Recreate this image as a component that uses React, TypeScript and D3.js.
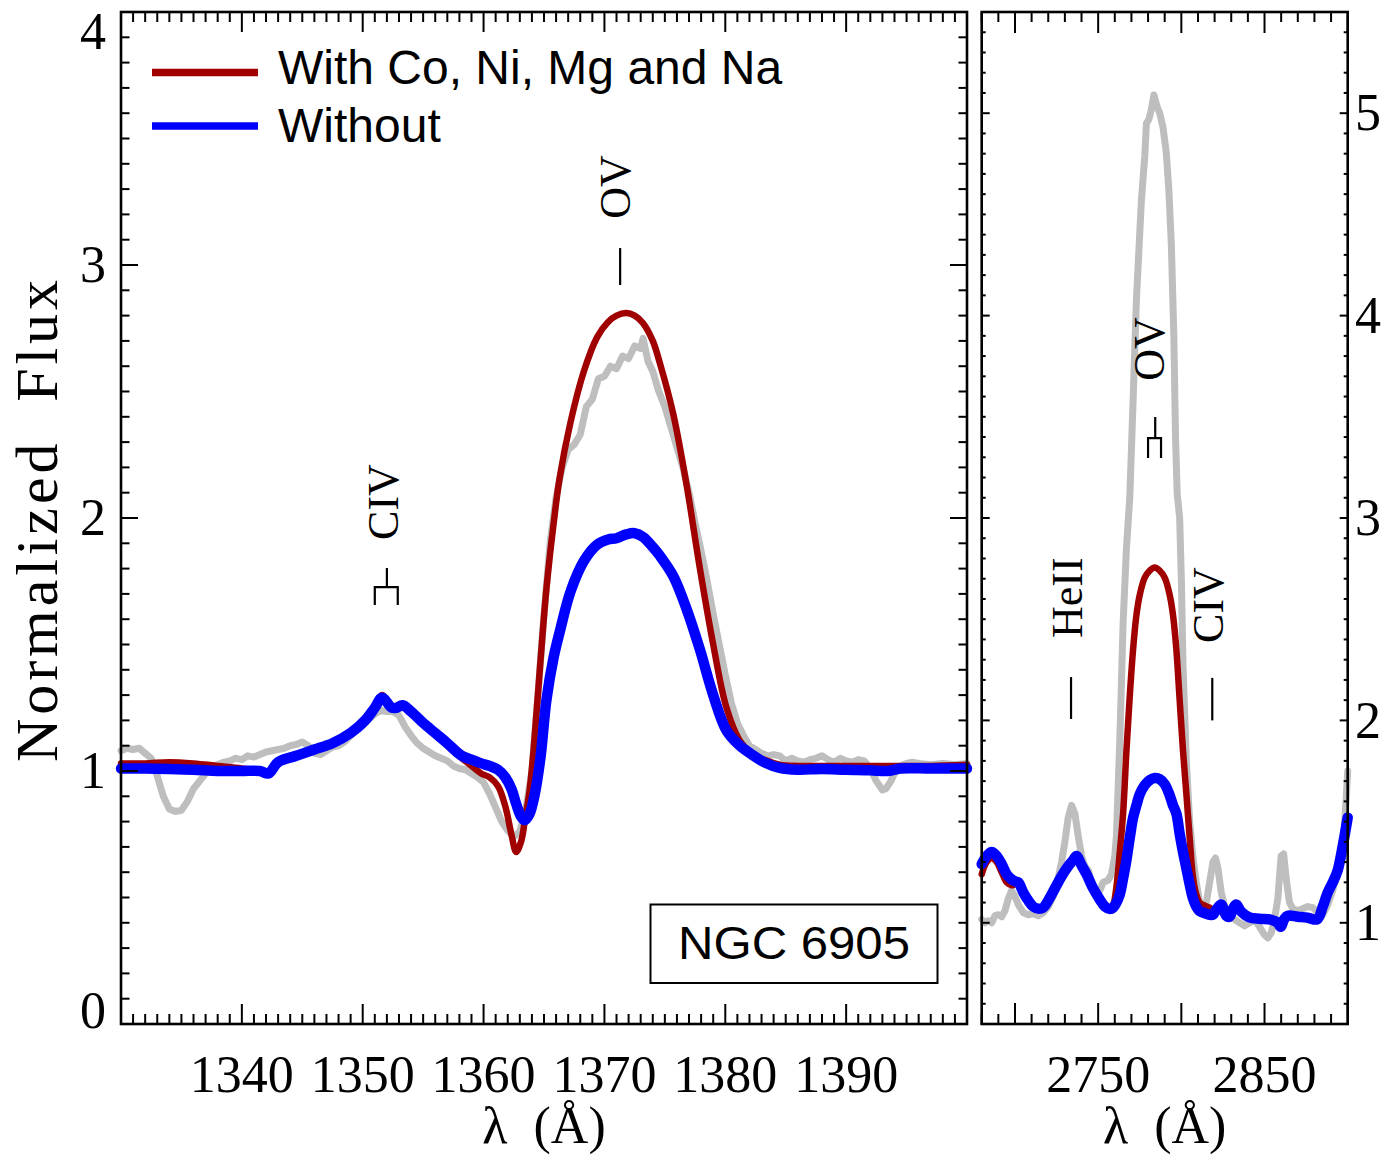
import React from "react";
import * as d3 from "d3";

// ---------------- DATA ----------------
// Left panel (1330-1400 Å): model grid
const leftWave = [1330, 1332, 1334, 1336, 1338, 1340, 1341.5, 1342.2, 1343, 1344.5, 1346, 1347.5, 1349, 1350.2, 1351, 1351.6, 1352.4, 1352.8, 1353.3, 1354, 1355, 1356, 1357, 1358.2, 1359, 1359.8, 1360.5, 1361.2, 1361.8, 1362.3, 1362.7, 1363.1, 1363.4, 1363.8, 1364.2, 1364.7, 1365.2, 1365.8, 1366.3, 1367.2, 1368.3, 1369.4, 1370.3, 1371, 1371.8, 1372.5, 1373.2, 1374, 1374.6, 1375.7, 1376.8, 1377.9, 1379, 1380.1, 1381.2, 1382.2, 1383.2, 1384.5, 1386, 1388, 1390, 1392, 1393.4, 1394.5, 1397, 1400];
const leftWith = [1.03, 1.03, 1.035, 1.03, 1.02, 1.01, 1.0, 0.99, 1.035, 1.06, 1.085, 1.11, 1.155, 1.21, 1.26, 1.3, 1.25, 1.25, 1.26, 1.23, 1.19, 1.15, 1.1, 1.05, 1.02, 0.99, 0.975, 0.94, 0.86, 0.75, 0.68, 0.72, 0.8, 0.92, 1.12, 1.43, 1.72, 1.98, 2.16, 2.38, 2.58, 2.715, 2.775, 2.8, 2.81, 2.8, 2.77, 2.7, 2.61, 2.41, 2.13, 1.8, 1.5, 1.25, 1.12, 1.07, 1.045, 1.025, 1.02, 1.02, 1.02, 1.02, 1.02, 1.02, 1.02, 1.025];
const leftWithout = [1.01, 1.01, 1.008, 1.005, 1.0, 1.0, 1.0, 0.99, 1.035, 1.06, 1.085, 1.11, 1.15, 1.2, 1.25, 1.29, 1.25, 1.25, 1.26, 1.235, 1.19, 1.15, 1.11, 1.06, 1.045, 1.03, 1.02, 1.005, 0.975, 0.93, 0.87, 0.82, 0.805, 0.83, 0.9, 1.05, 1.28, 1.45, 1.55, 1.71, 1.83, 1.895, 1.915, 1.92, 1.935, 1.94, 1.925, 1.885, 1.85, 1.77, 1.64, 1.48, 1.3, 1.16, 1.1, 1.065, 1.035, 1.012, 1.005, 1.008, 1.005, 1.003, 1.0, 1.01, 1.01, 1.01];

// Left panel observed spectrum
const leftObsWave = [1330, 1330.5, 1331, 1331.5, 1332, 1332.5, 1333, 1333.5, 1334, 1334.5, 1335, 1335.5, 1336, 1336.5, 1337, 1337.5, 1338, 1338.5, 1339, 1339.5, 1340, 1340.5, 1341, 1341.5, 1342, 1342.5, 1343, 1343.5, 1344, 1344.5, 1345, 1345.5, 1346, 1346.5, 1347, 1347.5, 1348, 1348.5, 1349, 1349.5, 1350, 1350.5, 1351, 1351.5, 1352, 1352.5, 1353, 1353.5, 1354, 1354.5, 1355, 1355.5, 1356, 1356.5, 1357, 1357.5, 1358, 1358.5, 1359, 1359.5, 1360, 1360.5, 1361, 1361.5, 1362, 1362.5, 1363, 1363.5, 1364, 1364.5, 1365, 1365.5, 1366, 1366.5, 1367, 1367.5, 1368, 1368.5, 1369, 1369.5, 1370, 1370.5, 1371, 1371.5, 1372, 1372.5, 1373, 1373.2, 1373.6, 1374, 1374.5, 1375, 1375.5, 1376, 1376.5, 1377, 1377.5, 1378, 1378.5, 1379, 1379.5, 1380, 1380.5, 1381, 1381.5, 1382, 1382.5, 1383, 1383.5, 1384, 1384.5, 1385, 1385.5, 1386, 1386.5, 1387, 1387.5, 1388, 1388.5, 1389, 1389.5, 1390, 1390.5, 1391, 1391.5, 1392, 1392.5, 1393, 1393.3, 1393.7, 1394, 1394.5, 1395, 1395.5, 1396, 1397, 1398, 1399, 1400];
const leftObsFlux = [1.08, 1.09, 1.085, 1.09, 1.07, 1.05, 0.98, 0.9, 0.85, 0.84, 0.845, 0.88, 0.93, 0.96, 0.99, 1.01, 1.025, 1.035, 1.04, 1.05, 1.045, 1.06, 1.055, 1.065, 1.075, 1.08, 1.085, 1.09, 1.1, 1.105, 1.115, 1.1, 1.07, 1.065, 1.08, 1.095, 1.1, 1.115, 1.14, 1.165, 1.18, 1.205, 1.225, 1.24, 1.235, 1.235, 1.22, 1.175, 1.14, 1.11, 1.09, 1.075, 1.06, 1.05, 1.04, 1.02, 1.01, 1.005, 0.99, 0.975, 0.955, 0.91, 0.855, 0.8, 0.765, 0.74, 0.76, 0.85, 1.0, 1.3, 1.62, 1.9, 2.08, 2.2, 2.27, 2.29, 2.33, 2.44, 2.47, 2.55, 2.56, 2.6, 2.59, 2.64, 2.63, 2.68, 2.67, 2.71, 2.62, 2.58, 2.5, 2.44, 2.36, 2.28, 2.2, 2.1, 1.98, 1.87, 1.75, 1.62, 1.5, 1.38, 1.27, 1.19, 1.14, 1.1, 1.085, 1.07, 1.06, 1.065, 1.06, 1.04, 1.05, 1.04, 1.035, 1.045, 1.05, 1.06, 1.045, 1.035, 1.05, 1.04, 1.035, 1.045, 1.04, 1.01, 0.96, 0.925, 0.93, 0.96, 0.99, 1.02, 1.03, 1.035, 1.03, 1.025, 1.03, 1.025, 1.03];

// Right panel (2680-2900 Å): model grid
const rightWave = [2680, 2683, 2686, 2689, 2692, 2695, 2698, 2700, 2702, 2705, 2708, 2711, 2714, 2717, 2720, 2724, 2728, 2732, 2735, 2737, 2740, 2743, 2747, 2751, 2754, 2757, 2759, 2761, 2763, 2765, 2767, 2769, 2771, 2773, 2775, 2778, 2781, 2784, 2787, 2790, 2793, 2795, 2797, 2799, 2801, 2803, 2805, 2807, 2809, 2811, 2814, 2817, 2819, 2821, 2824, 2827, 2829, 2831, 2833, 2836, 2841, 2847, 2854, 2858, 2859.6, 2862, 2864, 2870, 2876, 2881.6, 2885, 2888, 2891, 2894, 2897, 2900];
const rightWith = [1.24, 1.3, 1.32, 1.3, 1.25, 1.2, 1.185, 1.19, 1.19, 1.14, 1.1, 1.075, 1.07, 1.08, 1.12, 1.18, 1.24, 1.29, 1.32, 1.335, 1.29, 1.24, 1.17, 1.11, 1.08, 1.075, 1.09, 1.18, 1.35, 1.54, 1.85, 2.12, 2.35, 2.52, 2.62, 2.705, 2.74, 2.755, 2.74, 2.705, 2.62, 2.52, 2.35, 2.1, 1.85, 1.64, 1.42, 1.225, 1.14, 1.1, 1.085, 1.075, 1.06, 1.07, 1.09, 1.035, 1.03, 1.07, 1.09, 1.055, 1.027, 1.02, 1.015, 1.0, 0.98, 1.02, 1.035, 1.03, 1.025, 1.017, 1.08, 1.15, 1.2, 1.26, 1.38, 1.52];
const rightWithout = [1.29, 1.33, 1.35, 1.33, 1.29, 1.24, 1.215, 1.205, 1.2, 1.15, 1.11, 1.08, 1.07, 1.075, 1.11, 1.17, 1.23, 1.28, 1.31, 1.33, 1.285, 1.24, 1.17, 1.115, 1.08, 1.068, 1.075, 1.1, 1.14, 1.22, 1.31, 1.42, 1.52, 1.58, 1.635, 1.68, 1.705, 1.715, 1.71, 1.685, 1.63, 1.58, 1.54, 1.44, 1.35, 1.27, 1.19, 1.12, 1.08, 1.058, 1.048, 1.04, 1.04, 1.065, 1.09, 1.035, 1.03, 1.07, 1.09, 1.055, 1.027, 1.02, 1.015, 1.0, 0.98, 1.02, 1.035, 1.03, 1.025, 1.017, 1.08, 1.15, 1.2, 1.26, 1.38, 1.52];

// Right panel observed spectrum
const rightObsWave = [2680, 2682, 2684, 2686, 2688, 2690, 2692, 2694, 2696, 2698, 2700, 2702, 2705, 2708, 2711, 2714, 2717, 2720, 2723, 2726, 2728, 2730, 2732, 2734, 2736, 2738, 2740, 2742, 2744, 2747, 2749, 2751, 2753, 2756, 2758, 2760, 2761, 2763, 2765, 2767, 2769, 2771, 2773, 2776, 2778, 2779, 2780.5, 2782, 2783.5, 2784.5, 2785.5, 2787, 2789, 2791, 2792.5, 2794, 2795.5, 2796.5, 2797.5, 2799, 2800, 2801, 2803, 2805, 2807, 2809, 2811, 2813, 2815, 2817, 2819, 2820.5, 2822, 2824, 2826, 2829, 2832, 2835, 2838, 2841, 2844, 2847, 2850, 2852, 2854, 2856, 2858, 2860, 2861.5, 2863, 2865, 2867, 2870, 2873, 2876, 2879, 2882, 2885, 2888, 2891, 2894, 2897, 2899, 2900];
const rightObsFlux = [1.017, 1.0, 1.01, 1.0, 1.035, 1.04, 1.03, 1.06, 1.12, 1.16, 1.13, 1.09, 1.05, 1.04, 1.045, 1.035, 1.05, 1.08, 1.13, 1.22, 1.3, 1.4, 1.52, 1.58, 1.54, 1.43, 1.33, 1.28, 1.26, 1.18, 1.14, 1.16, 1.2, 1.21, 1.24, 1.33, 1.43, 1.9, 2.48, 2.85, 3.1, 3.58, 4.08, 4.57, 4.785, 4.95, 4.97, 5.02, 5.09, 5.06, 5.03, 5.0, 4.93, 4.8, 4.62, 4.35, 3.9, 3.4, 3.12, 3.0, 2.7, 2.27, 1.8, 1.5, 1.32, 1.2, 1.1, 1.08, 1.1, 1.2, 1.3, 1.32, 1.27, 1.15, 1.08, 1.03, 1.017, 1.0, 0.985, 1.0, 1.017, 0.98, 0.94, 0.925, 0.95, 1.017, 1.12, 1.33, 1.34, 1.22, 1.1, 1.07, 1.06, 1.07, 1.08, 1.075, 1.05, 1.04, 1.09, 1.16, 1.25, 1.36, 1.6, 1.75];

// Axis ticks and labels
const leftXTicks = [1340, 1350, 1360, 1370, 1380, 1390];
const leftYTicks = [0, 1, 2, 3, 4];
const rightXTicks = [2750, 2850];
const rightYTicks = [1, 2, 3, 4, 5];
const legendLabels = ["With Co, Ni, Mg and Na", "Without"];
const objectName = "NGC 6905";

// Line identifications
const leftIdLabels = ["CIV", "OV"];
const leftIdWave = [1351.7, 1370.9];
const leftIdFlux = [2.063, 3.308];
const rightIdLabels = ["HeII", "OV", "CIV"];
const rightIdWave = [2731.3, 2781.0, 2816.2];
const rightIdFlux = [2.606, 3.835, 2.57];

// simple markers (wave, flux top, flux bottom)
const leftBarWave = [1371.3];
const leftBarTop = [3.067];
const leftBarBottom = [2.921];
const rightBarWave = [2733.7, 2818.6];
const rightBarTop = [2.214, 2.21];
const rightBarBottom = [2.007, 2.0];

// doublet forks: stem wave, stem top, junction, leg bottom; leg waves
const leftForkStem = [1352.0, 1.802, 1.727, 1.656];
const leftForkLegs = [1351.0, 1352.9];
const rightForkStem = [2784.3, 3.499, 3.395, 3.296];
const rightForkLegs = [2780.0, 2787.8];

// ---------------- STYLE ----------------
const RED = "#a00000";
const BLUE = "#0000ff";
const GRAY = "#bebebe";
const SERIF = "'Liberation Serif', 'DejaVu Serif', serif";
const SANS = "'Liberation Sans', Arial, sans-serif";

type Scale = d3.ScaleLinear<number, number>;

function zip(xs: number[], ys: number[]): [number, number][] {
  return xs.map((x, i) => [x, ys[i]]);
}

function Curve({ xs, ys, x, y, color, width, smooth }: { xs: number[]; ys: number[]; x: Scale; y: Scale; color: string; width: number; smooth: boolean }) {
  const line = d3
    .line<[number, number]>()
    .x((d) => x(d[0]))
    .y((d) => y(d[1]))
    .curve(smooth ? d3.curveCatmullRom.alpha(0.5) : d3.curveLinear);
  return <path d={line(zip(xs, ys)) || ""} fill="none" stroke={color} strokeWidth={width} strokeLinejoin="round" strokeLinecap="round" />;
}

function Frame({ x, y, xMinor, yMinor, xMajorTest, yMajorTest, xMaj, xMin, yMaj, yMin }: {
  x: Scale; y: Scale; xMinor: number[]; yMinor: number[]; xMajorTest: (v: number) => boolean; yMajorTest: (v: number) => boolean; xMaj: number; xMin: number; yMaj: number; yMin: number;
}) {
  const [x0, x1] = x.range();
  const [yb, yt] = y.range();
  const lines: JSX.Element[] = [];
  xMinor.forEach((v, i) => {
    const px = x(v);
    const len = xMajorTest(v) ? xMaj : xMin;
    lines.push(<line key={"xb" + i} x1={px} x2={px} y1={yb} y2={yb - len} />);
    lines.push(<line key={"xt" + i} x1={px} x2={px} y1={yt} y2={yt + len} />);
  });
  yMinor.forEach((v, i) => {
    const py = y(v);
    const len = yMajorTest(v) ? yMaj : yMin;
    lines.push(<line key={"yl" + i} x1={x0} x2={x0 + len} y1={py} y2={py} />);
    lines.push(<line key={"yr" + i} x1={x1} x2={x1 - len} y1={py} y2={py} />);
  });
  return (
    <g stroke="#000" strokeWidth={2}>
      {lines}
      <rect x={x0} y={yt} width={x1 - x0} height={yb - yt} fill="none" strokeWidth={2.6} />
    </g>
  );
}

function IdLabel({ text, px, py, fs }: { text: string; px: number; py: number; fs: number }) {
  const bx = px + fs * 0.33;
  return (
    <text x={bx} y={py} transform={`rotate(-90 ${bx} ${py})`} textAnchor="middle" fontFamily={SERIF} fontSize={fs} fill="#000">
      {text}
    </text>
  );
}

export default function App() {
  const xL = d3.scaleLinear().domain([1330, 1400]).range([121, 967]);
  const yL = d3.scaleLinear().domain([0, 4]).range([1024, 12]);
  const xR = d3.scaleLinear().domain([2680, 2900]).range([981.7, 1347.7]);
  const yR = d3.scaleLinear().domain([0.5, 5.5]).range([1024, 12]);

  const lxMinor = d3.range(1330, 1401, 1);
  const lyMinor = d3.range(0, 41).map((v) => v / 10);
  const rxMinor = d3.range(2680, 2901, 10);
  const ryMinor = d3.range(5, 56).map((v) => v / 10);
  const isInt = (v: number) => Math.abs(v - Math.round(v)) < 1e-6;

  const tickFs = 52;
  const idFs = 44;

  return (
    <svg width={1391} height={1158} viewBox="0 0 1391 1158" style={{ position: "absolute", left: 0, top: 0, background: "#fff" }}>
      <rect x={0} y={0} width={1391} height={1158} fill="#fff" />

      {/* ---------- left panel ---------- */}
      <Curve xs={leftObsWave} ys={leftObsFlux} x={xL} y={yL} color={GRAY} width={7} smooth={false} />
      <Curve xs={leftWave} ys={leftWith} x={xL} y={yL} color={RED} width={6.5} smooth={true} />
      <Curve xs={leftWave} ys={leftWithout} x={xL} y={yL} color={BLUE} width={10.5} smooth={true} />
      <Frame x={xL} y={yL} xMinor={lxMinor} yMinor={lyMinor} xMajorTest={(v) => v % 10 === 0} yMajorTest={isInt} xMaj={20} xMin={10} yMaj={17} yMin={8.5} />

      {leftXTicks.map((v) => (
        <text key={"lx" + v} x={xL(v)} y={1092} textAnchor="middle" fontFamily={SERIF} fontSize={tickFs}>{v}</text>
      ))}
      {leftYTicks.map((v) => {
        let py = yL(v);
        if (v === 4) py += 20;
        if (v === 0) py -= 13;
        return (
          <text key={"ly" + v} x={106} y={py + tickFs * 0.33} textAnchor="end" fontFamily={SERIF} fontSize={tickFs}>{v}</text>
        );
      })}
      <text x={(xL.range()[0] + xL.range()[1]) / 2} y={1143} textAnchor="middle" fontFamily={SERIF} fontSize={tickFs} style={{ whiteSpace: "pre" }}>{"λ  (Å)"}</text>
      <text x={57} y={521} transform="rotate(-90 57 521)" textAnchor="middle" fontFamily={SERIF} fontSize={60} textLength={482} lengthAdjust="spacing" style={{ whiteSpace: "pre" }}>{"Normalized  Flux"}</text>

      {leftIdLabels.map((t, i) => (
        <IdLabel key={"lid" + i} text={t} px={xL(leftIdWave[i])} py={yL(leftIdFlux[i])} fs={idFs} />
      ))}
      <g stroke="#000" strokeWidth={2.2} fill="none">
        {leftBarWave.map((w, i) => (
          <line key={"lb" + i} x1={xL(w)} x2={xL(w)} y1={yL(leftBarTop[i])} y2={yL(leftBarBottom[i])} />
        ))}
        <path d={`M${xL(leftForkStem[0])},${yL(leftForkStem[1])} V${yL(leftForkStem[2])} M${xL(leftForkLegs[0])},${yL(leftForkStem[3])} V${yL(leftForkStem[2])} H${xL(leftForkLegs[1])} V${yL(leftForkStem[3])}`} />
        <path d={`M${xR(rightForkStem[0])},${yR(rightForkStem[1])} V${yR(rightForkStem[2])} M${xR(rightForkLegs[0])},${yR(rightForkStem[3])} V${yR(rightForkStem[2])} H${xR(rightForkLegs[1])} V${yR(rightForkStem[3])}`} />
        {rightBarWave.map((w, i) => (
          <line key={"rb" + i} x1={xR(w)} x2={xR(w)} y1={yR(rightBarTop[i])} y2={yR(rightBarBottom[i])} />
        ))}
      </g>

      {/* legend */}
      <line x1={152} x2={258} y1={72.5} y2={72.5} stroke={RED} strokeWidth={7.5} />
      <line x1={152} x2={258} y1={126} y2={126} stroke={BLUE} strokeWidth={7.5} />
      <text x={278} y={84} fontFamily={SANS} fontSize={48}>{legendLabels[0]}</text>
      <text x={278} y={142} fontFamily={SANS} fontSize={48}>{legendLabels[1]}</text>

      {/* object box */}
      <rect x={650.5} y={904.5} width={287} height={78.5} fill="#fff" stroke="#000" strokeWidth={2} />
      <text x={794} y={959} textAnchor="middle" fontFamily={SANS} fontSize={46} textLength={232} lengthAdjust="spacingAndGlyphs">{objectName}</text>

      {/* ---------- right panel ---------- */}
      <Curve xs={rightObsWave} ys={rightObsFlux} x={xR} y={yR} color={GRAY} width={7} smooth={false} />
      <Curve xs={rightWave} ys={rightWith} x={xR} y={yR} color={RED} width={6.5} smooth={true} />
      <Curve xs={rightWave} ys={rightWithout} x={xR} y={yR} color={BLUE} width={10.5} smooth={true} />
      <Frame x={xR} y={yR} xMinor={rxMinor} yMinor={ryMinor} xMajorTest={(v) => v % 50 === 0} yMajorTest={isInt} xMaj={21} xMin={10} yMaj={8} yMin={4} />

      {rightXTicks.map((v) => (
        <text key={"rx" + v} x={xR(v)} y={1092} textAnchor="middle" fontFamily={SERIF} fontSize={tickFs}>{v}</text>
      ))}
      {rightYTicks.map((v) => (
        <text key={"ry" + v} x={1355} y={yR(v) + tickFs * 0.33} textAnchor="start" fontFamily={SERIF} fontSize={tickFs}>{v}</text>
      ))}
      <text x={(xR.range()[0] + xR.range()[1]) / 2} y={1143} textAnchor="middle" fontFamily={SERIF} fontSize={tickFs} style={{ whiteSpace: "pre" }}>{"λ  (Å)"}</text>

      {rightIdLabels.map((t, i) => (
        <IdLabel key={"rid" + i} text={t} px={xR(rightIdWave[i])} py={yR(rightIdFlux[i])} fs={idFs} />
      ))}
    </svg>
  );
}
